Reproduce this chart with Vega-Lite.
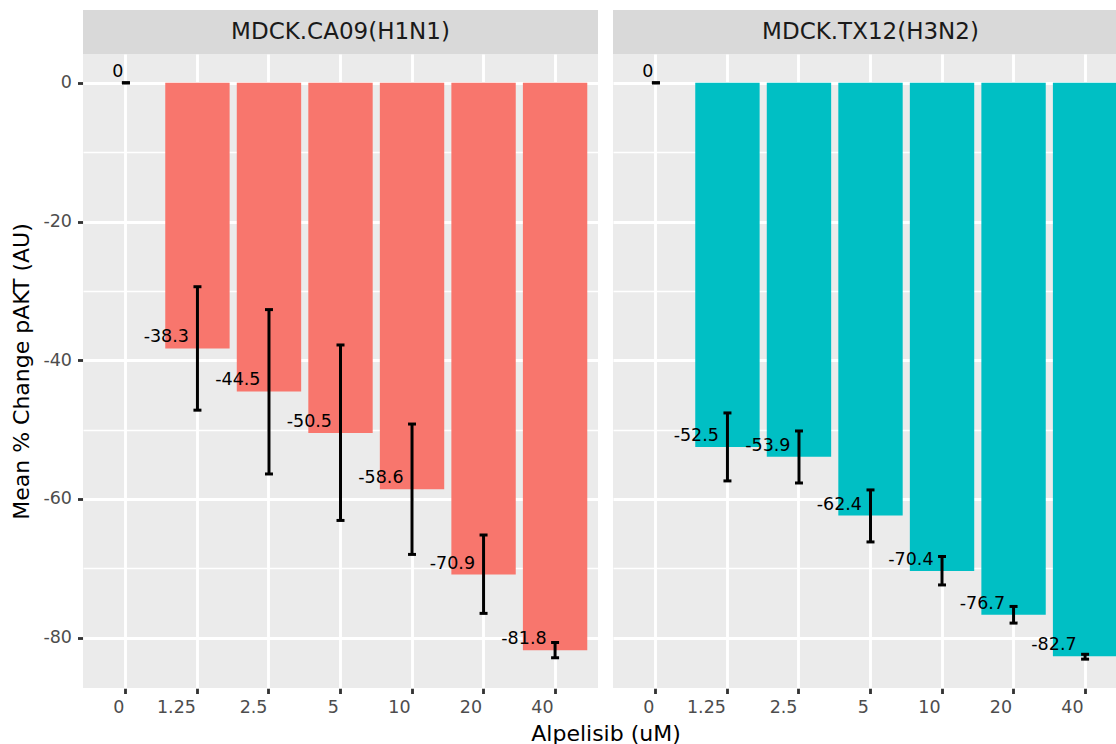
{
  "$schema": "https://vega.github.io/schema/vega-lite/v6.json",
  "background": "white",
  "padding": {"left": 10, "top": 10, "right": 5, "bottom": 5},
  "data": {
    "values": [
      {"panel": "MDCK.CA09(H1N1)", "dose": "0", "mean": 0, "lo": 0, "hi": 0},
      {"panel": "MDCK.CA09(H1N1)", "dose": "1.25", "mean": -38.3, "lo": -47.2, "hi": -29.4},
      {"panel": "MDCK.CA09(H1N1)", "dose": "2.5", "mean": -44.5, "lo": -56.4, "hi": -32.7},
      {"panel": "MDCK.CA09(H1N1)", "dose": "5", "mean": -50.5, "lo": -63.1, "hi": -37.8},
      {"panel": "MDCK.CA09(H1N1)", "dose": "10", "mean": -58.6, "lo": -68.0, "hi": -49.2},
      {"panel": "MDCK.CA09(H1N1)", "dose": "20", "mean": -70.9, "lo": -76.5, "hi": -65.2},
      {"panel": "MDCK.CA09(H1N1)", "dose": "40", "mean": -81.8, "lo": -82.9, "hi": -80.7},
      {"panel": "MDCK.TX12(H3N2)", "dose": "0", "mean": 0, "lo": 0, "hi": 0},
      {"panel": "MDCK.TX12(H3N2)", "dose": "1.25", "mean": -52.5, "lo": -57.4, "hi": -47.6},
      {"panel": "MDCK.TX12(H3N2)", "dose": "2.5", "mean": -53.9, "lo": -57.7, "hi": -50.2},
      {"panel": "MDCK.TX12(H3N2)", "dose": "5", "mean": -62.4, "lo": -66.2, "hi": -58.7},
      {"panel": "MDCK.TX12(H3N2)", "dose": "10", "mean": -70.4, "lo": -72.4, "hi": -68.3},
      {"panel": "MDCK.TX12(H3N2)", "dose": "20", "mean": -76.7, "lo": -77.9, "hi": -75.5},
      {"panel": "MDCK.TX12(H3N2)", "dose": "40", "mean": -82.7, "lo": -83.1, "hi": -82.4}
    ]
  },
  "facet": {
    "column": {
      "field": "panel",
      "type": "nominal",
      "header": {
        "title": "Alpelisib (uM)",
        "titleOrient": "bottom",
        "labels": false,
        "titleFont": "DejaVu Sans",
        "titleFontSize": 22,
        "titleFontWeight": "normal",
        "titleColor": "black",
        "titlePadding": -2
      }
    }
  },
  "spacing": 15,
  "spec": {
    "width": 515,
    "height": 634,
    "layer": [
      {
        "mark": {"type": "bar"},
        "encoding": {
          "x": {
            "field": "dose",
            "type": "nominal",
            "sort": ["0", "1.25", "2.5", "5", "10", "20", "40"],
            "scale": {"paddingInner": 0.1, "paddingOuter": 0.15},
            "title": null,
            "axis": {
              "grid": true,
              "gridColor": "white",
              "gridWidth": 2.85,
              "labelAngle": 0,
              "labelAlign": "right",
              "labelOffset": -1.5,
              "labelPadding": 5
            }
          },
          "y": {
            "field": "mean",
            "type": "quantitative",
            "title": "Mean % Change pAKT (AU)",
            "scale": {"domain": [-87.26, 4.155], "nice": false, "zero": false},
            "axis": {
              "values": [-80, -70, -60, -50, -40, -30, -20, -10, 0],
              "labelExpr": "datum.value % 20 === 0 ? '' + datum.value : ''",
              "gridColor": "white",
              "gridWidth": {"condition": {"test": "datum.value % 20 === 0", "value": 2.85}, "value": 1.4},
              "tickOpacity": {"condition": {"test": "datum.value % 20 === 0", "value": 1}, "value": 0},
              "labelOverlap": false,
              "labelFlush": false,
              "labelPadding": 6,
              "titlePadding": 9
            }
          },
          "y2": {"datum": 0},
          "color": {
            "field": "panel",
            "type": "nominal",
            "scale": {"range": ["#F8766D", "#00BFC4"]},
            "legend": null
          }
        }
      },
      {
        "mark": {"type": "rule", "color": "black", "strokeWidth": 3},
        "encoding": {
          "x": {"field": "dose", "type": "nominal", "sort": ["0", "1.25", "2.5", "5", "10", "20", "40"], "title": null},
          "y": {"field": "lo", "type": "quantitative", "title": "Mean % Change pAKT (AU)"},
          "y2": {"field": "hi"}
        }
      },
      {
        "mark": {"type": "tick", "orient": "horizontal", "color": "black", "size": 8, "thickness": 3, "opacity": 1},
        "encoding": {
          "x": {"field": "dose", "type": "nominal", "sort": ["0", "1.25", "2.5", "5", "10", "20", "40"], "title": null},
          "y": {"field": "lo", "type": "quantitative", "title": "Mean % Change pAKT (AU)"}
        }
      },
      {
        "mark": {"type": "tick", "orient": "horizontal", "color": "black", "size": 8, "thickness": 3, "opacity": 1},
        "encoding": {
          "x": {"field": "dose", "type": "nominal", "sort": ["0", "1.25", "2.5", "5", "10", "20", "40"], "title": null},
          "y": {"field": "hi", "type": "quantitative", "title": "Mean % Change pAKT (AU)"}
        }
      },
      {
        "transform": [{"filter": "datum.mean != 0"}],
        "mark": {"type": "text", "align": "right", "baseline": "alphabetic", "dx": -8.5, "dy": -6, "fontSize": 17.5, "color": "black"},
        "encoding": {
          "x": {"field": "dose", "type": "nominal", "sort": ["0", "1.25", "2.5", "5", "10", "20", "40"], "title": null},
          "y": {"field": "mean", "type": "quantitative", "title": "Mean % Change pAKT (AU)"},
          "text": {"field": "mean", "type": "nominal"}
        }
      },
      {
        "transform": [{"filter": "datum.mean == 0"}],
        "mark": {"type": "text", "align": "right", "baseline": "alphabetic", "dx": -2.5, "dy": -6, "fontSize": 17.5, "color": "black"},
        "encoding": {
          "x": {"field": "dose", "type": "nominal", "sort": ["0", "1.25", "2.5", "5", "10", "20", "40"], "title": null},
          "y": {"field": "mean", "type": "quantitative", "title": "Mean % Change pAKT (AU)"},
          "text": {"field": "mean", "type": "nominal"}
        }
      },
      {
        "transform": [{"filter": "datum.dose == '0'"}],
        "mark": {"type": "rect", "color": "#D9D9D9"},
        "encoding": {
          "y": {"datum": 10.497},
          "y2": {"datum": 4.155}
        }
      },
      {
        "transform": [{"filter": "datum.dose == '0'"}],
        "mark": {"type": "text", "align": "center", "baseline": "middle", "fontSize": 23, "color": "#1A1A1A"},
        "encoding": {
          "y": {"datum": 7.326},
          "text": {"field": "panel", "type": "nominal"}
        }
      }
    ]
  },
  "config": {
    "font": "DejaVu Sans",
    "view": {"stroke": null, "fill": "#EBEBEB"},
    "axis": {
      "domain": false,
      "labelFont": "DejaVu Sans",
      "titleFont": "DejaVu Sans",
      "labelColor": "#4D4D4D",
      "labelFontSize": 17.5,
      "titleFontSize": 22,
      "titleFontWeight": "normal",
      "titleColor": "black",
      "tickColor": "#333333",
      "tickWidth": 2.85,
      "tickSize": 5.5
    }
  }
}
